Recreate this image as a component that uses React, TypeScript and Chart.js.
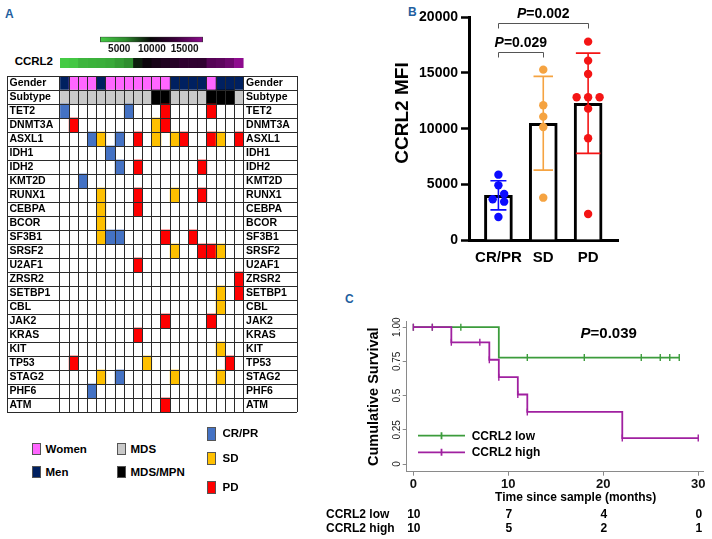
import React, { useEffect, useRef } from 'react';
import { Chart, registerables } from 'chart.js';

Chart.register(...registerables);

const FONT = '"Liberation Sans", Arial, Helvetica, sans-serif';
Chart.defaults.font.family = FONT;

// ================= DATA =================
// Panel A – mutation landscape (20 patients, ordered by CCRL2)
const geneNames = ['TET2', 'DNMT3A', 'ASXL1', 'IDH1', 'IDH2', 'KMT2D', 'RUNX1', 'CEBPA', 'BCOR', 'SF3B1', 'SRSF2', 'U2AF1', 'ZRSR2', 'SETBP1', 'CBL', 'JAK2', 'KRAS', 'KIT', 'TP53', 'STAG2', 'PHF6', 'ATM'];
const patientGender = ['Men', 'Women', 'Women', 'Women', 'Men', 'Women', 'Women', 'Women', 'Women', 'Women', 'Women', 'Women', 'Men', 'Men', 'Men', 'Men', 'Women', 'Men', 'Men', 'Men'];
const patientSubtype = ['MDS', 'MDS', 'MDS', 'MDS', 'MDS', 'MDS', 'MDS', 'MDS', 'MDS', 'MDS', 'MDS/MPN', 'MDS/MPN', 'MDS', 'MDS', 'MDS', 'MDS', 'MDS/MPN', 'MDS/MPN', 'MDS/MPN', 'MDS'];
const patientResponse = ['CR/PR', 'PD', 'CR/PR', 'CR/PR', 'SD', 'CR/PR', 'CR/PR', 'CR/PR', 'PD', 'SD', 'SD', 'PD', 'SD', 'PD', 'PD', 'PD', 'PD', 'SD', 'PD', 'PD'];
const patientCCRL2 = [2066, 2335, 3443, 3653, 3802, 4132, 4910, 5868, 9132, 10150, 11078, 11796, 12096, 12814, 12814, 12814, 14910, 15299, 16108, 17814];
// mutated patient columns (1-based), aligned with geneNames
const mutatedPatients = [
  [1, 8, 12, 17], [2, 11, 12], [4, 5, 7, 9, 11, 13, 14, 17, 18, 20], [6], [7, 9, 16], [3],
  [5, 9, 13, 16], [5, 9], [5], [5, 6, 7, 12, 15], [13, 16, 17, 18], [9], [20], [18, 20],
  [18], [12, 17], [9], [18], [2, 10, 19], [5, 7, 13, 18], [4], [12],
];
const ccrl2LegendTicks = [5000, 10000, 15000];

// Panel B – CCRL2 MFI by response
const responseGroups = ['CR/PR', 'SD', 'PD'];
const dotSpreadSlot = [0, 0, 1, -1, 0, 1, 0, 0, 0, 0, 0, 0, 0, -2, 0, 2, 0, 0, 0, 0];
const mfiTicks = [0, 5000, 10000, 15000, 20000];
const comparisonPairs = [[0, 1], [0, 2]];
const comparisonP = ['0.029', '0.002'];

// Panel C – Kaplan-Meier
const lowStepTimes = [0, 9, 28];
const lowStepSurv = [1, 0.778, 0.778];
const lowCensorTimes = [0, 2, 5, 12, 18, 24, 26, 27, 28];
const highStepTimes = [0, 4, 8, 9, 11, 12, 22, 30];
const highStepSurv = [1, 0.889, 0.762, 0.635, 0.508, 0.381, 0.19, 0.19];
const highCensorTimes = [0, 2, 4, 7, 8, 9, 11, 12, 22, 30];
const riskTimes = [0, 10, 20, 30];
const lowAtRisk = [10, 7, 4, 0];
const highAtRisk = [10, 5, 2, 1];
const survTicks = [0, 0.25, 0.5, 0.75, 1];
const timeTicks = [0, 10, 20, 30];
const logRankP = '0.039';

// ================= STYLE =================
const genderColor: Record<string, string> = { Women: '#ff66ff', Men: '#002060' };
const subtypeColor: Record<string, string> = { MDS: '#c9c9c9', 'MDS/MPN': '#000000' };
const responseCellColor: Record<string, string> = { 'CR/PR': '#4472c4', SD: '#ffc000', PD: '#ff0000' };
const responseDotColor: Record<string, string> = { 'CR/PR': '#0b0bff', SD: '#f5a341', PD: '#f41515' };
const capWidths = [16, 19.5, 24.5];
const gradStops: [number, string][] = [[2000, '#45cc45'], [6000, '#2e8c2e'], [9800, '#060606'], [13500, '#3a003a'], [17800, '#8e0b8e']];
const lowColor = '#3c9c3c';
const highColor = '#a020a0';
const axisGray = '#8a8a8a';

function hexToRgb(h: string) {
  return [parseInt(h.slice(1, 3), 16), parseInt(h.slice(3, 5), 16), parseInt(h.slice(5, 7), 16)];
}
function gradColor(v: number) {
  if (v <= gradStops[0][0]) return gradStops[0][1];
  for (let i = 1; i < gradStops.length; i++) {
    if (v <= gradStops[i][0]) {
      const [v0, c0] = gradStops[i - 1];
      const [v1, c1] = gradStops[i];
      const t = (v - v0) / (v1 - v0);
      const a = hexToRgb(c0), b = hexToRgb(c1);
      const m = a.map((x, k) => Math.round(x + (b[k] - x) * t));
      return `rgb(${m[0]},${m[1]},${m[2]})`;
    }
  }
  return gradStops[gradStops.length - 1][1];
}
const fontStr = (size: number, bold = true, italic = false) => `${italic ? 'italic ' : ''}${bold ? 'bold ' : ''}${size}px ${FONT}`;

const mean = (a: number[]) => a.reduce((s, v) => s + v, 0) / a.length;
const sdev = (a: number[]) => {
  const m = mean(a);
  return Math.sqrt(a.reduce((s, v) => s + (v - m) ** 2, 0) / (a.length - 1));
};
const groupValues = responseGroups.map((g) => patientCCRL2.filter((_, i) => patientResponse[i] === g));

function survAt(times: number[], surv: number[], t: number) {
  let s = surv[0];
  for (let i = 0; i < times.length; i++) if (times[i] <= t) s = surv[i];
  return s;
}

function drawPText(ctx: CanvasRenderingContext2D, value: string, cx: number, cy: number, size: number) {
  ctx.font = fontStr(size, true, true);
  const wP = ctx.measureText('P').width;
  ctx.font = fontStr(size);
  const wR = ctx.measureText('=' + value).width;
  const sx = cx - (wP + wR) / 2;
  ctx.textBaseline = 'middle';
  ctx.textAlign = 'left';
  ctx.fillStyle = '#000';
  ctx.font = fontStr(size, true, true);
  ctx.fillText('P', sx, cy);
  ctx.font = fontStr(size);
  ctx.fillText('=' + value, sx + wP, cy);
}

// ================= CHART CONFIGS =================
const rowLabels = ['Gender', 'Subtype', ...geneNames];
const HEAT_MIN = -5.77;
const HEAT_MAX = 25.82;

function heatConfig(): any {
  const cells: any[] = [];
  const colors: string[] = [];
  patientGender.forEach((g, i) => { cells.push({ x: [i, i + 1], y: 'Gender' }); colors.push(genderColor[g]); });
  patientSubtype.forEach((s, i) => { cells.push({ x: [i, i + 1], y: 'Subtype' }); colors.push(subtypeColor[s]); });
  geneNames.forEach((gene, r) => {
    mutatedPatients[r].forEach((p) => {
      cells.push({ x: [p - 1, p], y: gene });
      colors.push(responseCellColor[patientResponse[p - 1]]);
    });
  });
  const colTicks = [HEAT_MIN, ...patientCCRL2.map((_, i) => i), patientCCRL2.length, HEAT_MAX];
  return {
    type: 'bar',
    data: {
      labels: rowLabels,
      datasets: [{ data: cells, backgroundColor: colors, borderWidth: 0, barPercentage: 1, categoryPercentage: 1 }],
    },
    options: {
      indexAxis: 'y', responsive: false, animation: false,
      layout: { padding: { left: 7, top: 6, right: 13, bottom: 8 } },
      plugins: { legend: { display: false }, tooltip: { enabled: false } },
      scales: {
        x: {
          type: 'linear', min: HEAT_MIN, max: HEAT_MAX,
          afterBuildTicks: (s: any) => { s.ticks = colTicks.map((v) => ({ value: v })); },
          ticks: { display: false },
          grid: { color: '#2a2a2a', lineWidth: 1, drawTicks: false, z: 1 },
          border: { display: false },
          afterFit: (s: any) => { s.height = 0; },
        },
        y: {
          type: 'category', offset: true,
          ticks: { display: false },
          grid: { offset: true, color: '#2a2a2a', lineWidth: 1, drawTicks: false, z: 1 },
          border: { display: false },
          afterFit: (s: any) => { s.width = 0; },
        },
      },
    },
    plugins: [{
      id: 'rowLabels',
      afterDraw(chart: any) {
        const { ctx, scales: { x, y } } = chart;
        ctx.save();
        ctx.font = fontStr(10.5);
        ctx.fillStyle = '#000';
        ctx.textBaseline = 'middle';
        ctx.textAlign = 'left';
        rowLabels.forEach((lab, i) => {
          const py = y.getPixelForValue(i) + 0.5;
          ctx.fillText(lab, x.getPixelForValue(HEAT_MIN) + 2.5, py);
          ctx.fillText(lab, x.getPixelForValue(patientCCRL2.length) + 2.5, py);
        });
        ctx.restore();
      },
    }],
  };
}

function ccrl2RowConfig(): any {
  return {
    type: 'bar',
    data: {
      labels: ['CCRL2'],
      datasets: [{
        data: patientCCRL2.map((_, i) => ({ x: [i, i + 1], y: 'CCRL2' })),
        backgroundColor: patientCCRL2.map((v) => gradColor(v)),
        borderWidth: 0, barPercentage: 1, categoryPercentage: 1,
      }],
    },
    options: {
      indexAxis: 'y', responsive: false, animation: false,
      layout: { padding: { left: 60, top: 6, right: 66.4, bottom: 4 } },
      plugins: { legend: { display: false }, tooltip: { enabled: false } },
      scales: {
        x: { type: 'linear', min: 0, max: patientCCRL2.length, display: false },
        y: { type: 'category', display: false },
      },
    },
  };
}

function ccrl2LegendConfig(): any {
  const vmin = Math.min(...patientCCRL2);
  const vmax = Math.max(...patientCCRL2);
  return {
    type: 'bar',
    data: {
      labels: ['scale'],
      datasets: [{
        data: [{ x: [vmin, vmax], y: 'scale' }],
        backgroundColor: (c: any) => {
          const { chart } = c;
          const { ctx, chartArea, scales } = chart;
          if (!chartArea) return '#000';
          const xs = scales.x;
          const x0 = xs.getPixelForValue(vmin), x1 = xs.getPixelForValue(vmax);
          const g = ctx.createLinearGradient(x0, 0, x1, 0);
          gradStops.forEach(([v, col]) => {
            const t = Math.min(1, Math.max(0, (xs.getPixelForValue(v) - x0) / (x1 - x0)));
            g.addColorStop(t, col);
          });
          return g;
        },
        borderColor: '#333', borderWidth: 1, borderSkipped: false,
        barPercentage: 1, categoryPercentage: 1,
      }],
    },
    options: {
      indexAxis: 'y', responsive: false, animation: false,
      layout: { padding: { left: 10, top: 6.7, right: 17, bottom: 0 } },
      plugins: { legend: { display: false }, tooltip: { enabled: false } },
      scales: {
        x: {
          type: 'linear', min: vmin, max: vmax,
          afterBuildTicks: (s: any) => { s.ticks = ccrl2LegendTicks.map((v) => ({ value: v })); },
          ticks: { callback: (v: any) => String(v), font: { size: 10, weight: 'bold' }, color: '#111', padding: 1, maxRotation: 0, autoSkip: false },
          grid: { display: false, drawTicks: false },
          border: { display: false },
          afterFit: (s: any) => { s.height = 15.7; },
        },
        y: { type: 'category', display: false },
      },
    },
  };
}

function panelBConfig(): any {
  const means = groupValues.map((v) => mean(v));
  const scatterSets = responseGroups.map((g, gi) => ({
    type: 'scatter',
    data: patientCCRL2
      .map((v, i) => ({ v, i }))
      .filter(({ i }) => patientResponse[i] === g)
      .map(({ v, i }) => ({ x: gi + dotSpreadSlot[i] * 0.128, y: v })),
    pointRadius: 4.2, pointHoverRadius: 4.2,
    backgroundColor: responseDotColor[g], borderWidth: 0, order: 1,
  }));
  return {
    type: 'bar',
    data: {
      datasets: [
        {
          type: 'bar', data: means.map((m, i) => ({ x: i, y: m })),
          backgroundColor: '#ffffff', borderColor: '#000', borderWidth: 3, barThickness: 28, order: 2,
        },
        ...scatterSets,
      ],
    },
    options: {
      responsive: false, animation: false,
      layout: { padding: { left: 0, top: 17.3, right: 93.7, bottom: 0 } },
      plugins: { legend: { display: false }, tooltip: { enabled: false } },
      scales: {
        x: {
          type: 'linear', offset: false, min: -0.656, max: 2.673,
          afterBuildTicks: (s: any) => { s.ticks = responseGroups.map((_, i) => ({ value: i })); },
          ticks: { callback: (v: any) => responseGroups[v], font: { size: 15, weight: 'bold' }, color: '#000', padding: 9, maxRotation: 0, autoSkip: false },
          grid: { display: false, drawTicks: false },
          border: { display: true, width: 3, color: '#000' },
          afterFit: (s: any) => { s.height = 35; },
        },
        y: {
          type: 'linear', min: 0, max: 20000,
          afterBuildTicks: (s: any) => { s.ticks = mfiTicks.map((v) => ({ value: v })); },
          ticks: { callback: (v: any) => String(v), font: { size: 14, weight: 'bold' }, color: '#000', padding: 3 },
          grid: { display: true, drawOnChartArea: false, drawTicks: true, tickLength: 8, tickWidth: 2.5, color: '#000' },
          border: { display: true, width: 3, color: '#000' },
          afterFit: (s: any) => { s.width = 99; },
        },
      },
    },
    plugins: [{
      id: 'panelBExtras',
      afterDatasetsDraw(chart: any) {
        const { ctx, scales: { x, y } } = chart;
        ctx.save();
        groupValues.forEach((vals, gi) => {
          const m = mean(vals), s = sdev(vals);
          const px = x.getPixelForValue(gi);
          const top = y.getPixelForValue(m + s), bot = y.getPixelForValue(m - s);
          const hw = capWidths[gi] / 2;
          ctx.strokeStyle = responseDotColor[responseGroups[gi]];
          ctx.lineWidth = 1.6;
          ctx.beginPath();
          ctx.moveTo(px, top); ctx.lineTo(px, bot);
          ctx.moveTo(px - hw, top); ctx.lineTo(px + hw, top);
          ctx.moveTo(px - hw, bot); ctx.lineTo(px + hw, bot);
          ctx.stroke();
        });
        const bracketLevels = [16850, 19520];
        comparisonPairs.forEach(([a, b], k) => {
          const x1 = x.getPixelForValue(a), x2 = x.getPixelForValue(b);
          const yb = Math.round(y.getPixelForValue(bracketLevels[k])) + 0.5;
          ctx.strokeStyle = '#555';
          ctx.lineWidth = 1;
          ctx.beginPath();
          ctx.moveTo(Math.round(x1) + 0.5, yb + 5); ctx.lineTo(Math.round(x1) + 0.5, yb);
          ctx.lineTo(Math.round(x2) + 0.5, yb); ctx.lineTo(Math.round(x2) + 0.5, yb + 5);
          ctx.stroke();
          drawPText(ctx, comparisonP[k], (x1 + x2) / 2, yb - 9.3, 14);
        });
        ctx.translate(33, 113);
        ctx.rotate(-Math.PI / 2);
        ctx.font = fontStr(19);
        ctx.fillStyle = '#000';
        ctx.textAlign = 'center';
        ctx.textBaseline = 'middle';
        ctx.fillText('CCRL2 MFI', 0, 0);
        ctx.restore();
      },
    }],
  };
}

function panelCConfig(): any {
  const stepSet = (times: number[], surv: number[], color: string, order: number) => ({
    type: 'line', data: times.map((t, i) => ({ x: t, y: surv[i] })), stepped: 'before',
    borderColor: color, borderWidth: 1.8, pointRadius: 0, fill: false, order,
  });
  const censorSet = (censor: number[], times: number[], surv: number[], color: string, order: number) => ({
    type: 'scatter', data: censor.map((t) => ({ x: t, y: survAt(times, surv, t) })),
    pointStyle: 'line', rotation: 90, pointRadius: 3.5, pointHoverRadius: 3.5,
    borderColor: color, borderWidth: 1.4, backgroundColor: color, order,
  });
  return {
    type: 'line',
    data: {
      datasets: [
        stepSet(lowStepTimes, lowStepSurv, lowColor, 4),
        censorSet(lowCensorTimes, lowStepTimes, lowStepSurv, lowColor, 3),
        stepSet(highStepTimes, highStepSurv, highColor, 2),
        censorSet(highCensorTimes, highStepTimes, highStepSurv, highColor, 1),
      ],
    },
    options: {
      responsive: false, animation: false,
      layout: { padding: { left: 0, top: 36.7, right: 9, bottom: 0 } },
      plugins: { legend: { display: false }, tooltip: { enabled: false } },
      scales: {
        x: {
          type: 'linear', min: -0.7, max: 30.5,
          afterBuildTicks: (s: any) => { s.ticks = timeTicks.map((v) => ({ value: v })); },
          ticks: { font: { size: 13, weight: 'bold' }, color: '#111', padding: 1, maxRotation: 0, autoSkip: false },
          grid: { display: true, drawOnChartArea: false, drawTicks: true, tickLength: 4, color: axisGray },
          border: { display: true, color: axisGray, width: 1 },
          afterFit: (s: any) => { s.height = 67.3; },
        },
        y: {
          type: 'linear', min: -0.056, max: 1.04,
          afterBuildTicks: (s: any) => { s.ticks = survTicks.map((v) => ({ value: v })); },
          ticks: {
            callback: (v: any) => (v === 0 ? '0' : v === 0.5 ? '0.5' : Number(v).toFixed(2)),
            font: { size: 10 }, color: '#222', padding: -4, minRotation: 90, maxRotation: 90, crossAlign: 'center', autoSkip: false,
          },
          grid: { display: true, drawOnChartArea: false, drawTicks: true, tickLength: 4, color: axisGray },
          border: { display: true, color: axisGray, width: 1 },
          afterFit: (s: any) => { s.width = 86.7; },
        },
      },
    },
    plugins: [{
      id: 'panelCExtras',
      afterDraw(chart: any) {
        const { ctx, chartArea, scales: { x } } = chart;
        ctx.save();
        ctx.fillStyle = '#000';
        // y title
        ctx.save();
        ctx.translate(53.5, (chartArea.top + chartArea.bottom) / 2);
        ctx.rotate(-Math.PI / 2);
        ctx.font = fontStr(14.5);
        ctx.textAlign = 'center';
        ctx.textBaseline = 'middle';
        ctx.fillText('Cumulative Survival', 0, 0);
        ctx.restore();
        // x title
        ctx.font = fontStr(12);
        ctx.textAlign = 'center';
        ctx.textBaseline = 'middle';
        ctx.fillText('Time since sample (months)', 255.7, 212.3);
        // P value
        drawPText(ctx, logRankP, 288.7, 49.3, 15);
        // legend
        const legendRows: [string, string, number][] = [['CCRL2 low', lowColor, 150.7], ['CCRL2 high', highColor, 167.3]];
        legendRows.forEach(([lab, col, ly]) => {
          ctx.strokeStyle = col;
          ctx.lineWidth = 1.8;
          ctx.beginPath();
          ctx.moveTo(98, ly); ctx.lineTo(145, ly);
          ctx.moveTo(121.5, ly - 3.5); ctx.lineTo(121.5, ly + 3.5);
          ctx.stroke();
          ctx.fillStyle = '#000';
          ctx.font = fontStr(12);
          ctx.textAlign = 'left';
          ctx.textBaseline = 'middle';
          ctx.fillText(lab, 151.7, ly + 0.5);
        });
        // number at risk
        const riskRows: [string, number[], number][] = [['CCRL2 low', lowAtRisk, 229.3], ['CCRL2 high', highAtRisk, 243.3]];
        riskRows.forEach(([lab, vals, ry]) => {
          ctx.font = fontStr(12);
          ctx.textAlign = 'left';
          ctx.textBaseline = 'middle';
          ctx.fillText(lab, 6, ry);
          ctx.textAlign = 'center';
          vals.forEach((n, k) => ctx.fillText(String(n), x.getPixelForValue(riskTimes[k]) + 0.5, ry));
        });
        ctx.restore();
      },
    }],
  };
}

// ================= COMPONENTS =================
function ChartBox({ x, y, w, h, make }: { x: number; y: number; w: number; h: number; make: () => any }) {
  const ref = useRef<HTMLCanvasElement>(null);
  useEffect(() => {
    const chart = new Chart(ref.current as HTMLCanvasElement, make());
    return () => chart.destroy();
  }, []);
  return (
    <div style={{ position: 'absolute', left: x, top: y, width: w, height: h }}>
      <canvas ref={ref} width={w} height={h} style={{ display: 'block', width: w, height: h }} />
    </div>
  );
}

function Txt({ x, y, size, children, align = 'left', color = '#000', bold = true }: any) {
  const tx = align === 'center' ? '-50%' : align === 'right' ? '-100%' : '0';
  return (
    <div
      style={{
        position: 'absolute', left: x, top: y, transform: `translate(${tx}, -50%)`,
        fontFamily: FONT, fontSize: size, fontWeight: bold ? 'bold' : 'normal', lineHeight: 1,
        whiteSpace: 'nowrap', color,
      }}
    >
      {children}
    </div>
  );
}

function Swatch({ x, y, w, h, color }: any) {
  return (
    <div style={{ position: 'absolute', left: x, top: y, width: w, height: h, background: color, border: '1px solid #555', boxSizing: 'border-box' }} />
  );
}

export default function App() {
  const genderKeys = Object.keys(genderColor);
  const subtypeKeys = Object.keys(subtypeColor);
  return (
    <div style={{ position: 'absolute', left: 0, top: 0, width: 712, height: 539, background: '#fff', overflow: 'hidden' }}>
      {/* Panel letters */}
      <Txt x={5} y={14} size={12} color="#1f5f9f">A</Txt>
      <Txt x={408} y={12} size={12} color="#1f5f9f">B</Txt>
      <Txt x={345} y={299} size={12} color="#1f5f9f">C</Txt>

      {/* Panel A */}
      <ChartBox x={90} y={30} w={130} h={28} make={ccrl2LegendConfig} />
      <Txt x={53} y={62.3} size={11.5} align="right">CCRL2</Txt>
      <ChartBox x={0} y={52} w={310} h={20} make={ccrl2RowConfig} />
      <ChartBox x={0} y={70} w={310} h={350} make={heatConfig} />

      {genderKeys.map((k, i) => (
        <React.Fragment key={k}>
          <Swatch x={32} y={443 + i * 23} w={9} h={12} color={genderColor[k]} />
          <Txt x={45.5} y={449.5 + i * 23} size={11.5}>{k}</Txt>
        </React.Fragment>
      ))}
      {subtypeKeys.map((k, i) => (
        <React.Fragment key={k}>
          <Swatch x={117} y={443 + i * 23} w={9} h={12} color={subtypeColor[k]} />
          <Txt x={130.5} y={449.5 + i * 23} size={11.5}>{k}</Txt>
        </React.Fragment>
      ))}
      {responseGroups.map((k, i) => (
        <React.Fragment key={k}>
          <Swatch x={207} y={[427, 452, 481][i]} w={9} h={[14, 13, 13][i]} color={responseCellColor[k]} />
          <Txt x={222.5} y={[434, 458.5, 488][i]} size={11.5}>{k}</Txt>
        </React.Fragment>
      ))}

      {/* Panel B */}
      <ChartBox x={370} y={0} w={342} h={275} make={panelBConfig} />

      {/* Panel C */}
      <ChartBox x={320} y={285} w={392} h={254} make={panelCConfig} />
    </div>
  );
}
